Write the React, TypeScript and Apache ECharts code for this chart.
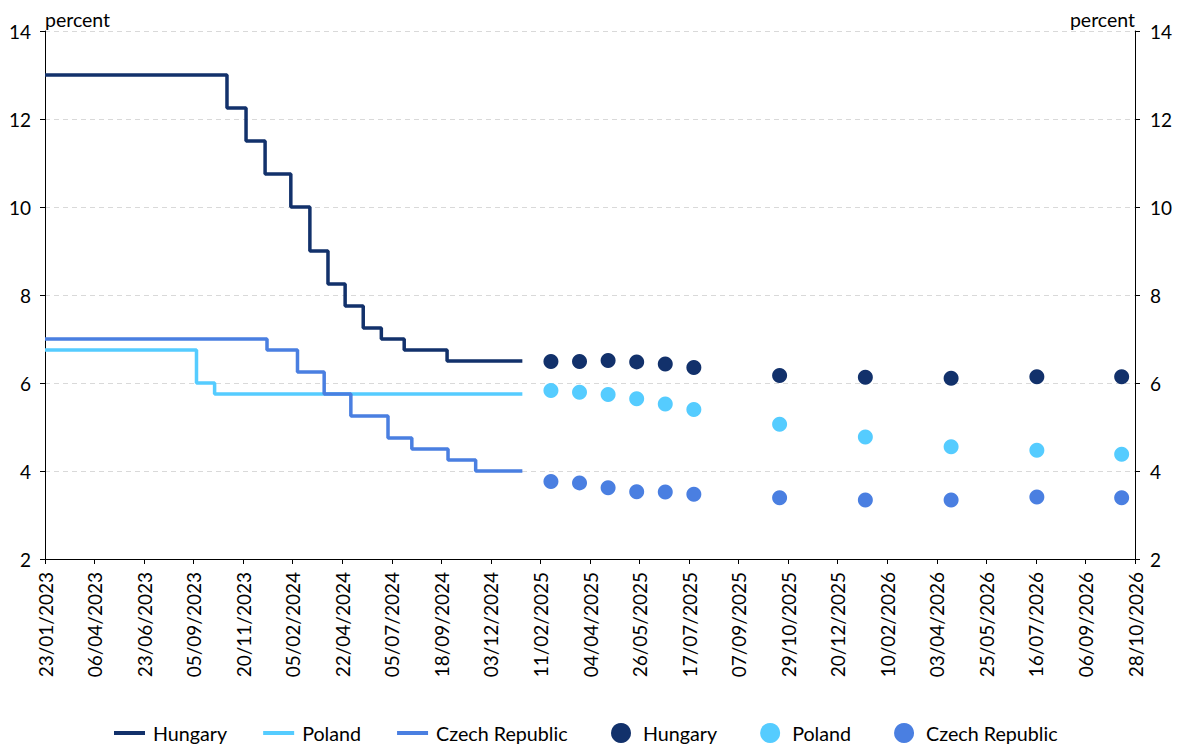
import React, { useEffect, useRef } from "react";
import * as echarts from "echarts";

// x positions are row indices of the source table (one label every 52 rows)
const tickLabels = [
  "23/01/2023", "06/04/2023", "23/06/2023", "05/09/2023", "20/11/2023", "05/02/2024",
  "22/04/2024", "05/07/2024", "18/09/2024", "03/12/2024", "11/02/2025", "04/04/2025",
  "26/05/2025", "17/07/2025", "07/09/2025", "29/10/2025", "20/12/2025", "10/02/2026",
  "03/04/2026", "25/05/2026", "16/07/2026", "06/09/2026", "28/10/2026",
];
const ROWS_PER_LABEL = 52;

// Policy rate history (step changes): row index and rate
const hungaryStepX = [0, 191, 211, 231, 258, 278, 297, 315, 334, 353, 377, 422, 501];
const hungaryStepY = [13, 12.25, 11.5, 10.75, 10, 9, 8.25, 7.75, 7.25, 7, 6.75, 6.5, 6.5];
const polandStepX = [0, 159, 178, 501];
const polandStepY = [6.75, 6.0, 5.75, 5.75];
const czechStepX = [0, 233, 265, 293, 321, 360, 385, 423, 452, 501];
const czechStepY = [7, 6.75, 6.25, 5.75, 5.25, 4.75, 4.5, 4.25, 4.0, 4.0];

// Expectations (dots)
const forecastX = [531, 561, 591, 621, 651, 681, 771, 861, 951, 1041, 1130];
const hungaryForecast = [6.49, 6.49, 6.51, 6.48, 6.43, 6.35, 6.17, 6.13, 6.11, 6.14, 6.14];
const polandForecast = [5.83, 5.79, 5.74, 5.64, 5.52, 5.4, 5.06, 4.77, 4.55, 4.47, 4.38];
const czechForecast = [3.76, 3.73, 3.62, 3.53, 3.52, 3.47, 3.39, 3.34, 3.34, 3.41, 3.39];

const seriesNames = ["Hungary", "Poland", "Czech Republic"];
const colors = ["#12316B", "#55CCFF", "#4A7FE1"];

const FONT = "Lato";

const zip = (xs: number[], ys: number[]) => xs.map((x, i) => [x, ys[i]]);

export default function App() {
  const ref = useRef<HTMLDivElement>(null);

  useEffect(() => {
    if (!ref.current) return;
    const chart = echarts.init(ref.current, undefined, { renderer: "svg" });

    const stepData = [
      zip(hungaryStepX, hungaryStepY),
      zip(polandStepX, polandStepY),
      zip(czechStepX, czechStepY),
    ];
    const dotData = [
      zip(forecastX, hungaryForecast),
      zip(forecastX, polandForecast),
      zip(forecastX, czechForecast),
    ];

    const yAxisCommon = {
      type: "value",
      min: 2,
      max: 14,
      interval: 2,
      axisLine: { show: true, lineStyle: { color: "#000", width: 1 } },
      axisTick: { show: true, length: 5, lineStyle: { color: "#000" } },
      nameLocation: "end",
    };

    chart.setOption({
      animation: false,
      textStyle: { fontFamily: FONT },
      grid: { left: 45, right: 44, top: 31, bottom: 189, containLabel: false },
      xAxis: {
        type: "value",
        min: 0,
        max: ROWS_PER_LABEL * (tickLabels.length - 1),
        interval: ROWS_PER_LABEL,
        axisLine: { show: true, onZero: false, lineStyle: { color: "#000", width: 1 } },
        axisTick: { show: true, length: 5, lineStyle: { color: "#000" } },
        splitLine: { show: false },
        axisLabel: {
          rotate: 90,
          margin: 13,
          fontSize: 19,
          fontFamily: FONT,
          color: "#000",
          showMinLabel: true,
          showMaxLabel: true,
          formatter: (v: number) => tickLabels[Math.round(v / ROWS_PER_LABEL)] ?? "",
        },
      },
      yAxis: [
        {
          ...yAxisCommon,
          position: "left",
          name: "percent",
          nameGap: 12,
          nameTextStyle: { fontSize: 19.5, color: "#000", align: "left", verticalAlign: "middle", fontFamily: FONT },
          splitLine: { show: true, lineStyle: { color: "#D9D9D9", type: [5, 4], width: 1 } },
          axisLabel: { margin: 14, fontSize: 19, color: "#000", fontFamily: FONT },
        },
        {
          ...yAxisCommon,
          position: "right",
          name: "percent",
          nameGap: 12,
          nameTextStyle: { fontSize: 19.5, color: "#000", align: "right", verticalAlign: "middle", fontFamily: FONT },
          splitLine: { show: false },
          axisLabel: { margin: 15, fontSize: 19, color: "#000", fontFamily: FONT },
        },
      ],
      legend: [
        {
          left: 114,
          top: 723,
          padding: 0,
          icon: "rect",
          itemWidth: 31,
          itemHeight: 4,
          itemGap: 36,
          selectedMode: false,
          data: seriesNames,
          textStyle: { fontSize: 19.7, color: "#000", fontFamily: FONT, padding: [0, 0, 0, 3] },
        },
        {
          left: 611,
          top: 723,
          padding: 0,
          icon: "circle",
          itemWidth: 20,
          itemHeight: 20,
          itemGap: 43,
          selectedMode: false,
          data: seriesNames,
          textStyle: { fontSize: 19.7, color: "#000", fontFamily: FONT, padding: [0, 0, 0, 7] },
        },
      ],
      series: [
        ...seriesNames.map((name, i) => ({
          name,
          type: "line",
          step: "end",
          data: stepData[i],
          showSymbol: false,
          symbol: "none",
          color: colors[i],
          lineStyle: { color: colors[i], width: 3.5 },
          z: 2,
        })),
        ...seriesNames.map((name, i) => ({
          name,
          type: "scatter",
          data: dotData[i],
          symbol: "circle",
          symbolSize: 15,
          color: colors[i],
          itemStyle: { color: colors[i], opacity: 1 },
          z: 3,
        })),
      ],
    });

    return () => chart.dispose();
  }, []);

  return (
    <div
      ref={ref}
      style={{ position: "fixed", left: 0, top: 0, width: 1179, height: 748, background: "#fff" }}
    />
  );
}
